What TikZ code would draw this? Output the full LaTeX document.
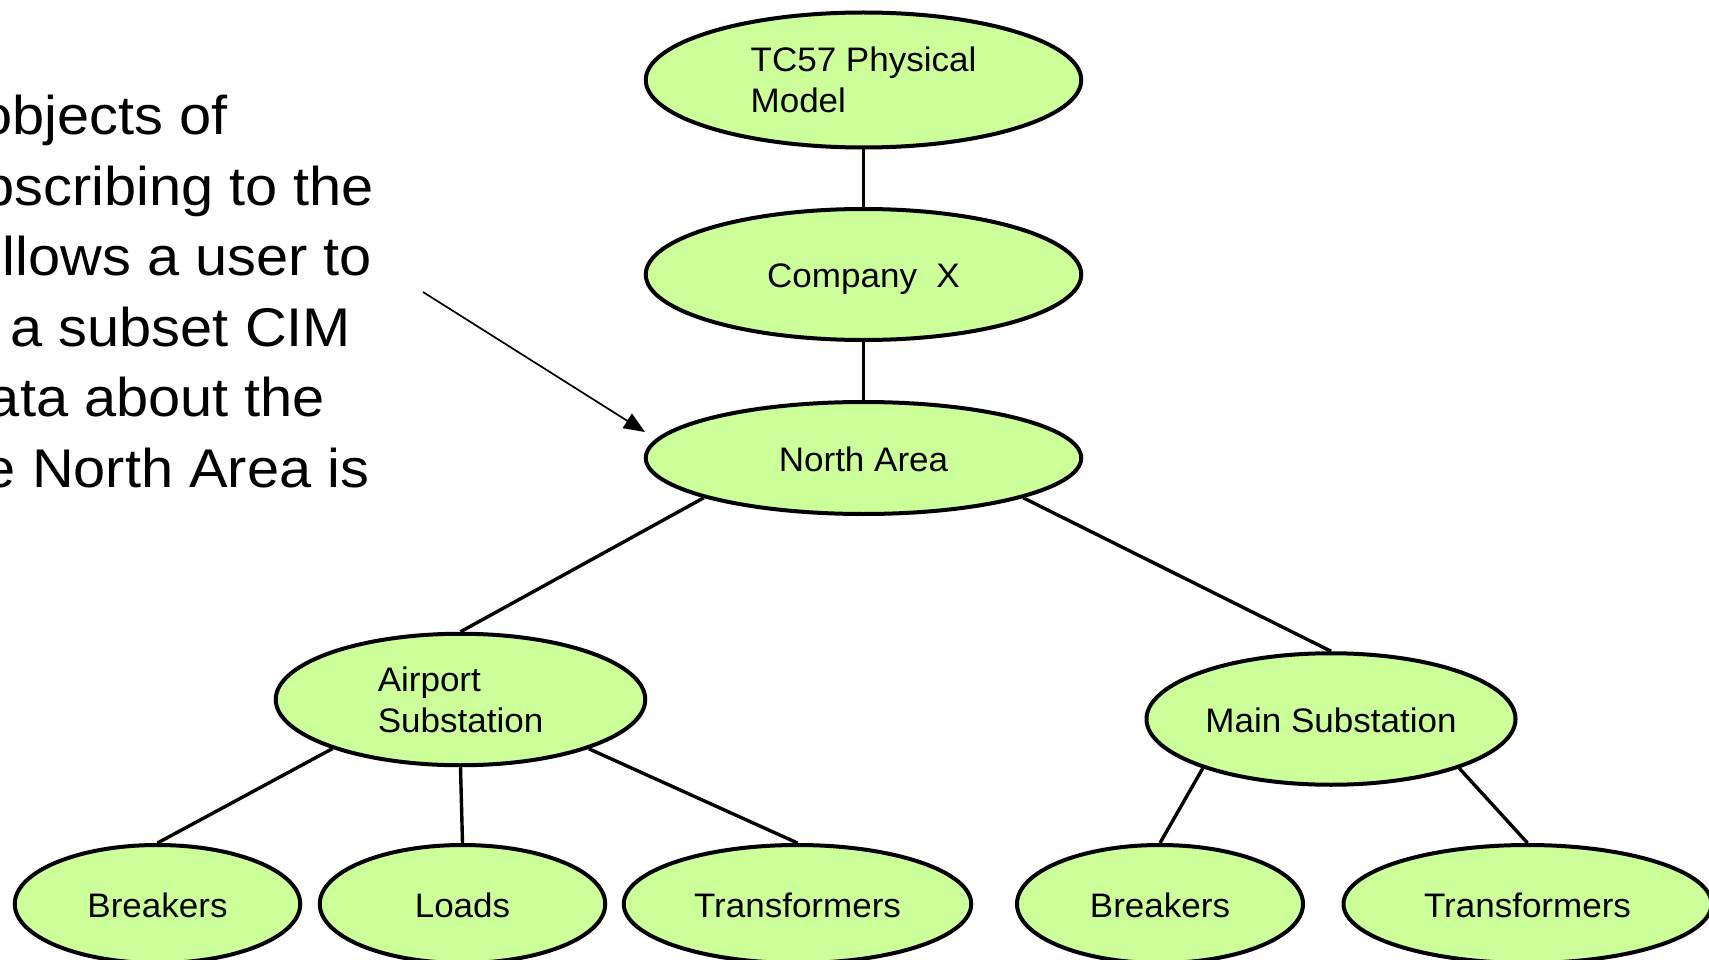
\documentclass[tikz,border=0pt]{standalone}
\usepackage{fontspec}
\setmainfont{Liberation Sans}
\newfontfamily\nodefont[FakeStretch=1.03]{Liberation Sans}
\newfontfamily\capfont[FakeStretch=1.06]{Liberation Sans}
\usetikzlibrary{shapes.geometric,arrows.meta}
\definecolor{leaf}{HTML}{CCFF99}
\tikzset{
  oval/.style={ellipse, draw=black, line width=4pt, fill=leaf, inner sep=0pt,
    font=\nodefont\fontsize{34}{41}\selectfont, align=center},
  oneline/.style={text height=26pt, text depth=0pt},
  link/.style={line width=3.4pt, draw=black},
  captext/.style={anchor=base west, inner sep=0pt,
    font=\capfont\fontsize{54.5}{70}\selectfont},
  callout/.style={line width=1.7pt, -{Triangle[length=21pt,width=17pt]}},
}
\begin{document}
\begin{tikzpicture}[x=1pt,y=-1pt]
\useasboundingbox (0,0) rectangle (1709,960);
\clip (0,0) rectangle (1709,960);

% caption text (clipped at the left edge, as in the reference)
\node[captext] (c1) at (-19.5,135) {objects of};
\node[captext] (c2) at (-18,205.5) {bscribing to the};
\node[captext] (c3) at (2.5,276) {llows a user to};
\node[captext] (c4) at (10.5,346) {a subset CIM};
\node[captext] (c5) at (-12.3,416.5) {ata about the};
\node[captext] (c6) at (-16.3,487) {e North Area is};

% tree nodes
\node[oval, minimum width=435.5pt, minimum height=135pt, align=left] (tc) at (863.5,80) {TC57 Physical\\Model};
\node[oval, oneline, minimum width=435.5pt, minimum height=131pt] (cx) at (863.5,274.5) {Company\ \ X};
\node[oval, oneline, minimum width=435.5pt, minimum height=112pt] (na) at (863.5,458) {North Area};
\node[oval, minimum width=369.5pt, minimum height=131.5pt, align=left] (as) at (460.5,699.5) {Airport\\Substation};
\node[oval, oneline, minimum width=369pt, minimum height=131.5pt] (ms) at (1331,719) {Main Substation};
\node[oval, oneline, minimum width=285.5pt, minimum height=118pt] (b1) at (157.5,904) {Breakers};
\node[oval, oneline, minimum width=285.5pt, minimum height=118pt] (ld) at (462.5,904) {Loads};
\node[oval, oneline, minimum width=347.5pt, minimum height=118pt] (t1) at (797.5,904) {Transformers};
\node[oval, oneline, minimum width=286pt, minimum height=118pt] (b2) at (1160,904) {Breakers};
\node[oval, oneline, minimum width=368pt, minimum height=118pt] (t2) at (1527.5,904) {Transformers};

% connectors
\draw[link] (tc) -- (cx);
\draw[link] (cx) -- (na);
\draw[link] (na.194) -- (as.north);
\draw[link] (na.346) -- (ms.north);
\draw[link] (as.201) -- (b1.north);
\draw[link] (as.south) -- (ld.north);
\draw[link] (as.339) -- (t1.north);
\draw[link] (ms.201) -- (b2.north);
\draw[link] (ms.339) -- (t2.north);

% callout arrow
\coordinate (cstart) at (423,292);
\coordinate (ctip) at (645,432);
\draw[callout] (cstart) -- (ctip);
\end{tikzpicture}
\end{document}
